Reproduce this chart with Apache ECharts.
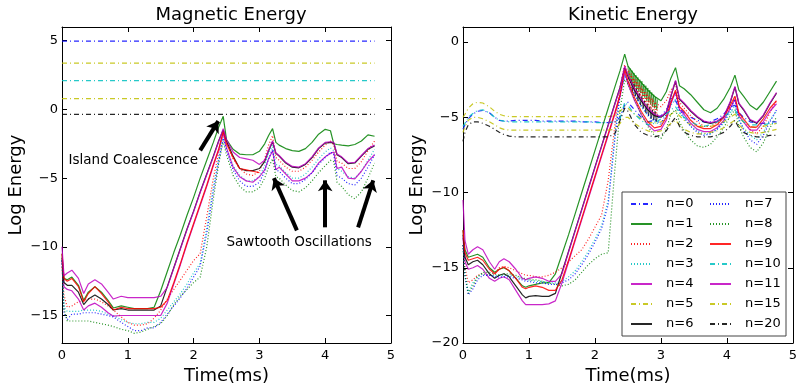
<!DOCTYPE html>
<html>
<head>
<meta charset="utf-8">
<script src="https://cdn.jsdelivr.net/npm/echarts@6/dist/echarts.min.js"></script>
<style>
  html, body { margin: 0; padding: 0; background: #fff; }
  #chart { width: 797px; height: 384px; }
</style>
</head>
<body>
<div id="chart"></div>
<script>
// Magnetic / kinetic energy per toroidal mode n (log scale), two panels

// ---- Magnetic Energy panel ----
const magT = [0, 0.03, 0.08, 0.15, 0.25, 0.33, 0.4, 0.5, 0.6, 0.7, 0.78, 0.9, 1.0, 1.1, 1.2,
  1.3, 1.4, 1.5, 1.6, 1.7, 1.8, 1.9, 2.0, 2.1, 2.2, 2.3, 2.38,
  2.45, 2.5, 2.6, 2.7, 2.8, 2.9, 3.0, 3.08, 3.14, 3.2, 3.25, 3.3, 3.4, 3.5, 3.6, 3.7, 3.8, 3.9, 4.0,
  4.08, 4.13, 4.18, 4.25, 4.35, 4.45, 4.55, 4.65, 4.75];
const magFlatT = [0, 4.75];

const magN0 = [4.97, 4.97];
const magN5 = [3.37, 3.37];
const magN10 = [2.09, 2.09];
const magN15 = [0.78, 0.78];
const magN20 = [-0.36, -0.36];

const magN1 = [-10.5, -12.3, -12.4, -12.2, -12.8, -13.9, -13.3, -12.9, -13.3, -13.9, -14.45, -14.3, -14.4, -14.5, -14.5,
  -14.5, -14.4, -13.2, -11.8, -10.4, -9.1, -7.7, -6.4, -5.0, -3.7, -2.4, -1.3,
  -0.5, -2.2, -2.9, -3.25, -3.3, -3.3, -3.05, -2.5, -1.9, -1.4, -2.4, -2.6, -2.85, -3.0, -3.05, -2.85, -2.4, -1.8, -1.45,
  -1.55, -2.5, -2.55, -2.6, -2.65, -2.55, -2.3, -1.85, -1.95];
const magN2 = [-11.5, -13.5, -14.4, -14.3, -14.0, -13.9, -13.8, -13.8, -14.0, -14.3, -14.6, -15.1, -15.5, -15.7, -15.7,
  -15.6, -15.2, -14.6, -13.8, -13.1, -12.4, -11.7, -11.0, -10.5, -7.8, -5.0, -3.2,
  -1.7, -2.4, -3.6, -4.3, -4.7, -4.8, -4.5, -3.6, -2.6, -1.9, -3.5, -3.7, -4.2, -4.5, -4.5, -4.2, -3.7, -3.1, -2.6,
  -2.3, -2.6, -3.8, -3.9, -4.3, -4.3, -3.8, -3.0, -2.3];
const magN3 = [-11.0, -14.4, -14.7, -14.7, -14.7, -14.6, -14.6, -14.6, -14.7, -14.9, -15.0, -15.3, -15.5, -15.6, -15.6,
  -15.5, -15.5, -15.2, -14.6, -14.0, -13.4, -12.7, -11.9, -11.2, -8.6, -5.6, -3.6,
  -2.0, -2.8, -4.1, -4.8, -5.2, -5.2, -4.9, -4.1, -3.2, -2.6, -4.0, -4.1, -4.6, -5.0, -5.0, -4.7, -4.2, -3.6, -3.1,
  -2.8, -3.0, -4.3, -4.5, -4.9, -5.0, -4.5, -3.7, -2.9];
const magN4 = [-11.0, -12.9, -13.1, -13.2, -13.8, -14.6, -14.3, -14.1, -14.4, -14.8, -15.05, -15.0, -15.0, -15.0, -15.0,
  -15.0, -15.0, -15.0, -14.1, -12.7, -11.3, -9.8, -8.4, -7.0, -5.6, -4.1, -3.0,
  -1.7, -2.8, -4.2, -4.9, -5.2, -5.3, -4.9, -4.4, -3.6, -3.0, -4.4, -4.2, -4.7, -5.2, -5.2, -5.0, -4.6, -3.9, -3.45,
  -3.2, -3.1, -4.3, -4.2, -5.0, -5.05, -4.5, -3.8, -3.3];
const magN6 = [-10.8, -12.6, -12.8, -12.8, -13.3, -14.2, -13.8, -13.5, -13.8, -14.2, -14.6, -14.5, -14.6, -14.6, -14.6,
  -14.6, -14.6, -14.3, -12.9, -11.5, -10.1, -8.7, -7.4, -6.0, -4.7, -3.4, -2.3,
  -1.5, -2.3, -3.4, -4.3, -4.45, -4.45, -4.3, -3.8, -3.0, -2.35, -3.2, -3.4, -3.9, -4.2, -4.25, -4.0, -3.5, -2.85, -2.45,
  -2.4, -2.45, -3.3, -3.5, -3.95, -3.9, -3.4, -2.9, -2.65];
const magN7 = [-11.0, -14.8, -15.3, -14.9, -14.9, -14.8, -14.8, -14.8, -14.9, -15.0, -15.1, -15.5, -15.8, -16.1, -16.1,
  -15.9, -15.9, -15.5, -14.9, -14.3, -13.7, -13.0, -12.2, -11.4, -9.0, -6.0, -3.8,
  -2.1, -3.0, -4.4, -5.2, -5.6, -5.6, -5.3, -4.5, -3.6, -2.9, -4.4, -4.5, -5.0, -5.4, -5.4, -5.1, -4.6, -4.0, -3.5,
  -3.1, -3.3, -4.8, -5.0, -5.4, -5.5, -5.0, -4.2, -3.3];
const magN8 = [-11.0, -14.5, -15.4, -15.4, -15.4, -15.4, -15.4, -15.5, -15.6, -15.7, -15.8, -16.0, -16.1, -16.3, -16.2,
  -16.0, -15.8, -15.6, -15.0, -14.2, -13.6, -13.1, -12.6, -12.2, -10.0, -6.5, -4.0,
  -2.3, -3.3, -4.8, -5.6, -6.0, -6.0, -5.7, -5.0, -4.2, -3.6, -4.9, -5.0, -5.5, -5.9, -6.0, -5.7, -5.2, -4.6, -4.1,
  -3.7, -3.8, -5.3, -5.6, -6.2, -6.5, -6.0, -5.0, -3.9];
const magN9 = [-10.5, -12.3, -12.5, -12.3, -12.9, -14.0, -13.4, -12.9, -13.4, -14.0, -14.6, -14.4, -14.5, -14.5, -14.5,
  -14.5, -14.5, -14.4, -13.9, -12.6, -11.2, -9.7, -8.3, -6.9, -5.5, -4.0, -2.9,
  -1.6, -2.5, -3.5, -4.3, -4.4, -4.5, -4.6, null, null, null, null, null, null, null, null, null, null, null, null,
  null, null, null, null, null, null, null, null, null];
const magN11 = [-10.0, -12.1, -11.9, -11.7, -12.3, -13.4, -12.7, -12.4, -12.7, -13.3, -13.8, -13.6, -13.7, -13.7, -13.7,
  -13.7, -13.7, -13.6, -12.95, -11.55, -10.15, -8.75, -7.45, -6.05, -4.75, -3.45, -2.35,
  -1.4, -2.2, -3.1, -3.5, -3.6, -3.7, -4.0, -3.7, -2.95, -2.3, -3.15, -3.35, -3.85, -4.15, -4.2, -3.95, -3.45, -2.8, -2.4,
  -2.35, -2.4, -3.25, -3.45, -3.9, -3.85, -3.35, -2.85, -2.6];

// ---- Kinetic Energy panel ----
const kinT = [0, 0.03, 0.08, 0.15, 0.22, 0.3, 0.4, 0.48, 0.55, 0.62, 0.7, 0.8, 0.9, 0.95, 1.0, 1.1, 1.2, 1.3, 1.4, 1.5,
  1.6, 1.7, 1.8, 1.9, 2.0, 2.1, 2.2, 2.3, 2.38,
  2.45, 2.5, 2.6, 2.7, 2.8, 2.9, 3.0, 3.08, 3.15, 3.22, 3.28, 3.35, 3.45, 3.55, 3.65, 3.75, 3.85, 3.95, 4.05, 4.12,
  4.18, 4.25, 4.35, 4.45, 4.55, 4.65, 4.75];

const kinN0 = [-5.8, -5.5, -5.1, -4.8, -4.6, -4.55, -4.7, -5.0, -5.2, -5.25, -5.25, -5.2, -5.2, -5.2, -5.2, -5.2, -5.25, -5.25, -5.25, -5.25,
  -5.25, -5.25, -5.3, -5.3, -5.3, -5.35, -5.35, -5.3, -5.0,
  -4.2, -4.0, -4.5, -5.0, -5.3, -5.2, -4.9, -4.5, -4.0, -3.9, -4.4, -4.7, -5.0, -5.2, -5.3, -5.3, -5.1, -4.8, -4.3, -4.2,
  -4.7, -5.0, -5.3, -5.4, -5.4, -5.3, -5.3];
const kinN1 = [-12.5, -13.8, -14.3, -14.2, -14.1, -14.3, -15.0, -15.3, -15.1, -15.0, -15.2, -15.7, -16.2, -16.3, -16.2, -16.1, -16.0, -16.0, -15.4, -14.1,
  -12.8, -11.4, -10.0, -8.6, -7.2, -5.8, -4.4, -3.0, -1.9,
  -0.8, -1.6, -2.2, -2.7, -3.2, -3.6, -3.9, -3.3, -2.4, -1.7, -2.9, -3.1, -3.5, -4.0, -4.5, -4.7, -4.4, -3.8, -3.0, -2.2,
  -3.2, -3.6, -4.2, -4.5, -4.0, -3.3, -2.6];
const kinN2 = [-13.5, -15.0, -16.0, -15.8, -15.5, -15.4, -15.5, -15.4, -15.0, -14.9, -15.0, -15.2, -15.4, -15.5, -15.5, -15.6, -15.6, -15.5, -15.3, -15.0,
  -14.6, -14.2, -13.8, -13.1, -12.3, -11.5, -9.2, -5.6, -3.0,
  -1.5, -2.0, -2.6, -3.1, -3.6, -4.0, -4.3, -3.9, -3.2, -2.8, -4.0, -4.4, -4.9, -5.3, -5.6, -5.6, -5.4, -5.0, -4.3, -3.7,
  -4.8, -5.3, -5.8, -6.1, -5.6, -4.7, -3.9];
const kinN3 = [-13.5, -15.4, -16.6, -16.0, -15.6, -15.4, -15.5, -15.5, -15.5, -15.5, -15.5, -15.6, -15.7, -15.8, -15.8, -15.9, -15.9, -16.0, -16.0, -15.9,
  -15.6, -15.2, -14.6, -13.9, -13.1, -12.2, -10.5, -6.2, -3.3,
  -2.2, -2.6, -3.5, -4.3, -4.9, -5.3, -5.5, -5.0, -4.2, -3.8, -4.7, -5.1, -5.6, -5.9, -6.1, -6.1, -5.8, -5.4, -4.7, -4.2,
  -5.2, -5.7, -6.2, -6.5, -6.0, -5.2, -4.6];
const kinN4 = [-13.0, -14.6, -15.1, -15.0, -14.85, -15.1, -15.7, -15.9, -15.7, -15.6, -15.8, -16.5, -17.2, -17.45, -17.45, -17.45, -17.45, -17.4, -17.2, -16.0,
  -14.6, -13.2, -11.8, -10.4, -9.0, -7.6, -6.2, -4.8, -3.6,
  -2.0, -2.8, -3.9, -4.8, -5.5, -5.9, -5.8, -5.2, -4.1, -3.3, -4.5, -4.8, -5.4, -5.8, -5.95, -5.95, -5.7, -5.2, -4.4, -3.8,
  -4.9, -5.3, -5.85, -5.85, -5.3, -4.6, -4.1];
const kinN5 = [-5.0, -4.8, -4.4, -4.1, -4.0, -4.05, -4.3, -4.6, -4.8, -4.9, -4.95, -4.95, -4.95, -4.95, -4.95, -4.95, -4.95, -4.95, -4.95, -4.95,
  -4.95, -4.95, -4.95, -4.95, -4.95, -4.95, -4.95, -4.9, -4.6,
  -4.3, -4.4, -4.8, -5.1, -5.3, -5.4, -5.3, -5.1, -4.8, -4.6, -4.9, -5.2, -5.5, -5.6, -5.6, -5.6, -5.5, -5.3, -5.0, -4.8,
  -5.0, -5.3, -5.6, -5.7, -5.6, -5.5, -5.4];
const kinN6 = [-12.8, -14.3, -14.8, -14.6, -14.5, -14.8, -15.4, -15.7, -15.5, -15.4, -15.6, -16.2, -16.8, -17.0, -16.9, -16.85, -16.9, -16.9, -16.7, -15.3,
  -13.9, -12.5, -11.1, -9.7, -8.3, -6.9, -5.5, -4.1, -3.0,
  -1.7, -2.3, -3.2, -3.9, -4.5, -4.9, -5.0, -4.7, -3.6, -2.6, -3.8, -4.1, -4.6, -5.0, -5.3, -5.4, -5.3, -5.0, -4.0, -3.0,
  -4.1, -4.5, -5.2, -5.4, -4.9, -4.1, -3.4];
const kinN7 = [-13.5, -15.6, -16.8, -16.4, -15.8, -15.5, -15.5, -15.6, -15.6, -15.6, -15.6, -15.7, -15.8, -15.9, -15.9, -16.0, -16.0, -16.1, -16.1, -16.0,
  -15.8, -15.4, -14.8, -14.1, -13.3, -12.4, -10.8, -6.5, -3.5,
  -2.3, -2.6, -3.5, -4.2, -4.8, -5.2, -5.4, -4.8, -3.8, -3.4, -4.5, -5.0, -5.6, -6.0, -6.2, -6.1, -5.8, -5.3, -4.5, -3.8,
  -5.1, -5.8, -6.5, -6.8, -6.2, -5.3, -4.5];
const kinN8 = [-13.5, -15.5, -16.7, -16.2, -15.6, -15.3, -15.3, -15.4, -15.5, -15.4, -15.4, -15.5, -15.7, -15.7, -15.8, -15.8, -15.9, -16.0, -16.1, -16.2,
  -16.1, -15.8, -15.3, -14.8, -14.4, -14.1, -14.0, -8.5, -4.5,
  -2.5, -2.8, -3.8, -4.8, -5.6, -6.2, -6.4, -5.8, -4.8, -4.5, -5.3, -5.9, -6.5, -6.9, -7.0, -6.8, -6.3, -5.7, -4.9, -4.5,
  -5.6, -6.3, -7.0, -7.3, -6.7, -5.7, -5.0];
const kinN9 = [-12.5, -14.0, -14.5, -14.4, -14.3, -14.5, -15.1, -15.4, -15.1, -14.95, -15.2, -15.7, -16.3, -16.4, -16.3, -16.2, -16.3, -16.5, -16.5, -15.8,
  -14.5, -13.1, -11.7, -10.3, -8.9, -7.5, -6.1, -4.7, -3.5,
  -1.8, -2.6, -3.7, -4.6, -5.3, -5.7, -5.6, -5.0, -4.0, -3.2, -4.3, -4.6, -5.2, -5.6, -5.75, -5.75, -5.5, -5.0, -4.2, -3.6,
  -4.7, -5.1, -5.65, -5.65, -5.1, -4.4, -3.9];
const kinN10 = [-5.6, -5.4, -5.0, -4.75, -4.55, -4.5, -4.7, -5.0, -5.2, -5.25, -5.3, -5.3, -5.3, -5.3, -5.3, -5.3, -5.3, -5.3, -5.3, -5.3,
  -5.3, -5.3, -5.3, -5.3, -5.35, -5.35, -5.35, -5.3, -5.1,
  -4.0, -4.2, -4.8, -5.2, -5.5, -5.4, -5.1, -4.8, -4.5, -4.3, -4.7, -5.0, -5.3, -5.5, -5.6, -5.5, -5.3, -5.0, -4.6, -4.5,
  -5.0, -5.3, -5.5, -5.5, -5.5, -5.4, -5.4];
const kinN11 = [-10.5, -13.2, -14.1, -13.8, -13.6, -13.8, -14.6, -15.1, -14.6, -14.4, -14.6, -15.1, -15.7, -15.8, -15.7, -15.6, -15.7, -15.9, -15.9, -15.4,
  -13.95, -12.55, -11.15, -9.75, -8.35, -6.95, -5.55, -4.15, -3.05,
  -1.6, -2.2, -3.1, -3.8, -4.4, -4.8, -4.95, -4.65, -3.55, -2.55, -3.75, -4.05, -4.55, -4.95, -5.25, -5.35, -5.25, -4.95, -3.95, -2.95,
  -4.05, -4.45, -5.15, -5.35, -4.85, -4.05, -3.35];
const kinN15 = [-6.0, -5.6, -5.2, -5.0, -5.0, -5.1, -5.3, -5.5, -5.7, -5.8, -5.85, -5.85, -5.85, -5.85, -5.85, -5.85, -5.85, -5.85, -5.85, -5.85,
  -5.85, -5.85, -5.85, -5.85, -5.85, -5.85, -5.85, -5.8, -5.4,
  -5.0, -5.0, -5.4, -5.7, -5.9, -6.0, -5.9, -5.7, -5.4, -5.2, -5.5, -5.8, -6.0, -6.1, -6.1, -6.0, -5.9, -5.7, -5.4, -5.2,
  -5.5, -5.8, -6.0, -6.1, -6.0, -5.9, -5.8];
const kinN20 = [-6.6, -6.0, -5.5, -5.3, -5.3, -5.4, -5.6, -5.8, -6.0, -6.15, -6.25, -6.3, -6.3, -6.3, -6.3, -6.3, -6.3, -6.3, -6.3, -6.3,
  -6.3, -6.3, -6.3, -6.3, -6.3, -6.3, -6.3, -6.1, -5.2,
  -4.4, -4.6, -5.5, -6.0, -6.2, -6.3, -6.2, -5.9, -5.4, -5.0, -5.6, -6.0, -6.2, -6.3, -6.3, -6.3, -6.2, -6.0, -5.6, -5.2,
  -5.7, -6.0, -6.2, -6.3, -6.3, -6.2, -6.2];

// fast jitter right after the kinetic peak (dense bands in the picture)
const kinJitterT1 = [2.5, 2.515, 2.53, 2.545, 2.56, 2.575, 2.59, 2.605, 2.62, 2.635, 2.65, 2.665, 2.68, 2.695, 2.71, 2.725,
  2.74, 2.755, 2.77, 2.785, 2.8, 2.815, 2.83, 2.845, 2.86, 2.875, 2.89, 2.905, 2.92, 2.935, 2.95];
const kinJitterN1 = [-1.6, -2.5, -1.75, -2.7, -1.9, -2.85, -2.05, -3.0, -2.2, -3.1, -2.35, -3.3, -2.5, -3.4, -2.6, -3.6,
  -2.8, -3.7, -2.9, -3.9, -3.05, -4.0, -3.2, -4.15, -3.35, -4.3, -3.5, -4.4, -3.65, -4.5, -3.8];
const kinJitterT2 = [2.51, 2.53, 2.55, 2.57, 2.59, 2.61, 2.63, 2.65, 2.67, 2.69, 2.71, 2.73, 2.75, 2.77, 2.79, 2.81,
  2.83, 2.85, 2.87, 2.89, 2.91, 2.93, 2.95];
const kinJitterN2 = [-1.9, -2.9, -2.1, -3.1, -2.3, -3.3, -2.5, -3.5, -2.7, -3.7, -2.95, -3.95, -3.15, -4.15, -3.35, -4.35,
  -3.55, -4.55, -3.75, -4.8, -4.0, -5.0, -4.2];
const kinJitterT6 = [2.55, 2.57, 2.59, 2.61, 2.63, 2.65, 2.67, 2.69, 2.71, 2.73, 2.75, 2.77, 2.79, 2.81, 2.83, 2.85,
  2.87, 2.89, 2.91, 2.93, 2.95];
const kinJitterN6 = [-2.5, -3.3, -2.8, -3.6, -3.1, -3.9, -3.4, -4.2, -3.6, -4.4, -3.9, -4.7, -4.1, -4.9, -4.3, -5.1,
  -4.5, -5.2, -4.6, -5.3, -4.8];

const legendNames = ['n=0', 'n=1', 'n=2', 'n=3', 'n=4', 'n=5', 'n=6',
  'n=7', 'n=8', 'n=9', 'n=10', 'n=11', 'n=15', 'n=20'];
const magYTicks = [-15, -10, -5, 0, 5];
const kinYTicks = [-20, -15, -10, -5, 0];

// annotation text anchors and arrows (data coordinates of the magnetic panel)
const coalescenceText = [0.1, -3.71];
const sawtoothText = [2.5, -9.69];
const coalescenceArrow = [[2.1, -2.98], [2.375, -0.85]];
const sawtoothArrows = [
  [[3.57, -8.8], [3.22, -5.0]],
  [[4.0, -8.58], [4.0, -5.16]],
  [[4.5, -8.58], [4.73, -5.16]]
];

// matplotlib classic colours + line styles
const DOT = [1, 2];
const DASHDOT = [5, 3, 1, 3];
const styles = {
  'n=0': ['#0000ff', DASHDOT], 'n=1': ['#008000', 'solid'], 'n=2': ['#ff0000', DOT],
  'n=3': ['#00bfbf', DOT], 'n=4': ['#bf00bf', 'solid'], 'n=5': ['#bfbf00', DASHDOT],
  'n=6': ['#000000', 'solid'], 'n=7': ['#0000ff', DOT], 'n=8': ['#008000', DOT],
  'n=9': ['#ff0000', 'solid'], 'n=10': ['#00bfbf', DASHDOT], 'n=11': ['#bf00bf', 'solid'],
  'n=15': ['#bfbf00', DASHDOT], 'n=20': ['#000000', DASHDOT]
};

const FONT = 'DejaVu Sans';

function serie(name, t, v, panel, width) {
  const [color, type] = styles[name];
  return {
    type: 'line',
    name: name,
    xAxisIndex: panel * 2,
    yAxisIndex: panel * 2,
    data: t.map((x, i) => [x, v[i]]),
    symbol: 'none',
    connectNulls: false,
    silent: true,
    itemStyle: { color: color },
    lineStyle: { color: color, width: width || 1.2, type: type, opacity: 0.85 }
  };
}

const magSeries = [
  serie('n=0', magFlatT, magN0, 0), serie('n=1', magT, magN1, 0), serie('n=2', magT, magN2, 0),
  serie('n=3', magT, magN3, 0), serie('n=4', magT, magN4, 0), serie('n=5', magFlatT, magN5, 0),
  serie('n=6', magT, magN6, 0), serie('n=7', magT, magN7, 0), serie('n=8', magT, magN8, 0),
  serie('n=9', magT, magN9, 0), serie('n=10', magFlatT, magN10, 0), serie('n=11', magT, magN11, 0),
  serie('n=15', magFlatT, magN15, 0), serie('n=20', magFlatT, magN20, 0)
];
const kinSeries = [
  serie('n=0', kinT, kinN0, 1),
  serie('n=1', kinT, kinN1, 1), serie('n=1', kinJitterT1, kinJitterN1, 1, 0.8),
  serie('n=2', kinT, kinN2, 1), serie('n=2', kinJitterT2, kinJitterN2, 1),
  serie('n=3', kinT, kinN3, 1), serie('n=4', kinT, kinN4, 1), serie('n=5', kinT, kinN5, 1),
  serie('n=6', kinT, kinN6, 1), serie('n=6', kinJitterT6, kinJitterN6, 1, 0.8),
  serie('n=7', kinT, kinN7, 1), serie('n=8', kinT, kinN8, 1),
  serie('n=9', kinT, kinN9, 1), serie('n=10', kinT, kinN10, 1), serie('n=11', kinT, kinN11, 1),
  serie('n=15', kinT, kinN15, 1), serie('n=20', kinT, kinN20, 1)
];

// annotations: empty helper series carrying markLine arrows and markPoint texts
const arrowLines = [coalescenceArrow].concat(sawtoothArrows).map(a => [
  { coord: a[0] }, { coord: a[1] }
]);
const annotSeries = {
  type: 'line',
  name: 'annot',
  xAxisIndex: 0,
  yAxisIndex: 0,
  data: [],
  silent: true,
  markLine: {
    silent: true,
    symbol: ['none', 'arrow'],
    symbolSize: [11, 11],
    label: { show: false },
    lineStyle: { color: '#000', width: 4, type: 'solid', opacity: 1 },
    data: arrowLines
  },
  markPoint: {
    silent: true,
    symbol: 'circle',
    symbolSize: 0,
    label: {
      show: true, position: 'right', distance: 0, color: '#000',
      fontFamily: FONT, fontSize: 13.5, formatter: p => p.name
    },
    data: [
      { name: 'Island Coalescence', coord: coalescenceText },
      { name: 'Sawtooth Oscillations', coord: sawtoothText }
    ]
  }
};

function fmt(v) {
  return v < 0 ? '\u2212' + Math.abs(v) : String(v);
}

function xAxes(grid) {
  const base = {
    type: 'value', gridIndex: grid, min: 0, max: 5, interval: 1,
    splitLine: { show: false },
    axisLine: { onZero: false, lineStyle: { color: '#000', width: 1 } },
    axisTick: { inside: true, length: 5, lineStyle: { color: '#000' } }
  };
  return [
    Object.assign({}, base, {
      position: 'bottom',
      name: 'Time(ms)', nameLocation: 'middle', nameGap: 20,
      nameTextStyle: { fontFamily: FONT, fontSize: 18, color: '#000' },
      axisLabel: { fontFamily: FONT, fontSize: 13, color: '#000', margin: 6, formatter: fmt }
    }),
    Object.assign({}, base, { position: 'top', axisLabel: { show: false } })
  ];
}

function yAxes(grid, min, max, ticks) {
  const base = {
    type: 'value', gridIndex: grid, min: min, max: max,
    splitLine: { show: false },
    axisLine: { onZero: false, lineStyle: { color: '#000', width: 1 } },
    axisTick: { inside: true, length: 5, customValues: ticks, lineStyle: { color: '#000' } }
  };
  return [
    Object.assign({}, base, {
      position: 'left',
      name: 'Log Energy', nameLocation: 'middle', nameGap: 37, nameRotate: 90,
      nameTextStyle: { fontFamily: FONT, fontSize: 18, color: '#000' },
      axisLabel: { fontFamily: FONT, fontSize: 13, color: '#000', margin: 4, customValues: ticks, formatter: fmt }
    }),
    Object.assign({}, base, { position: 'right', axisLabel: { show: false } })
  ];
}

const chart = echarts.init(document.getElementById('chart'), null, { renderer: 'canvas' });
chart.setOption({
  animation: false,
  backgroundColor: '#fff',
  title: [
    { text: 'Magnetic Energy', left: 226, top: 1, textAlign: 'center',
      textStyle: { fontFamily: FONT, fontSize: 18, fontWeight: 'normal', color: '#000' } },
    { text: 'Kinetic Energy', left: 628, top: 1, textAlign: 'center',
      textStyle: { fontFamily: FONT, fontSize: 18, fontWeight: 'normal', color: '#000' } }
  ],
  grid: [
    { left: 62, top: 27, width: 329, height: 316, outerBoundsMode: 'none', containLabel: false },
    { left: 463, top: 27, width: 330, height: 316, outerBoundsMode: 'none', containLabel: false }
  ],
  xAxis: xAxes(0).concat(xAxes(1)),
  yAxis: yAxes(0, -17, 6, magYTicks).concat(yAxes(1, -20, 1, kinYTicks)),
  legend: {
    data: legendNames,
    orient: 'vertical',
    left: 622,
    top: 192,
    height: 136,
    itemWidth: 21,
    itemHeight: 14,
    itemGap: 6,
    padding: [5, 4, 5, 8],
    borderColor: '#444',
    borderWidth: 1,
    borderRadius: 0,
    backgroundColor: '#fff',
    selectedMode: false,
    itemStyle: { opacity: 0 },
    textStyle: { fontFamily: FONT, fontSize: 13, color: '#000', width: 37, lineHeight: 14, padding: [0, 0, 0, 9] }
  },
  series: magSeries.concat(kinSeries, [annotSeries])
});
</script>
</body>
</html>
